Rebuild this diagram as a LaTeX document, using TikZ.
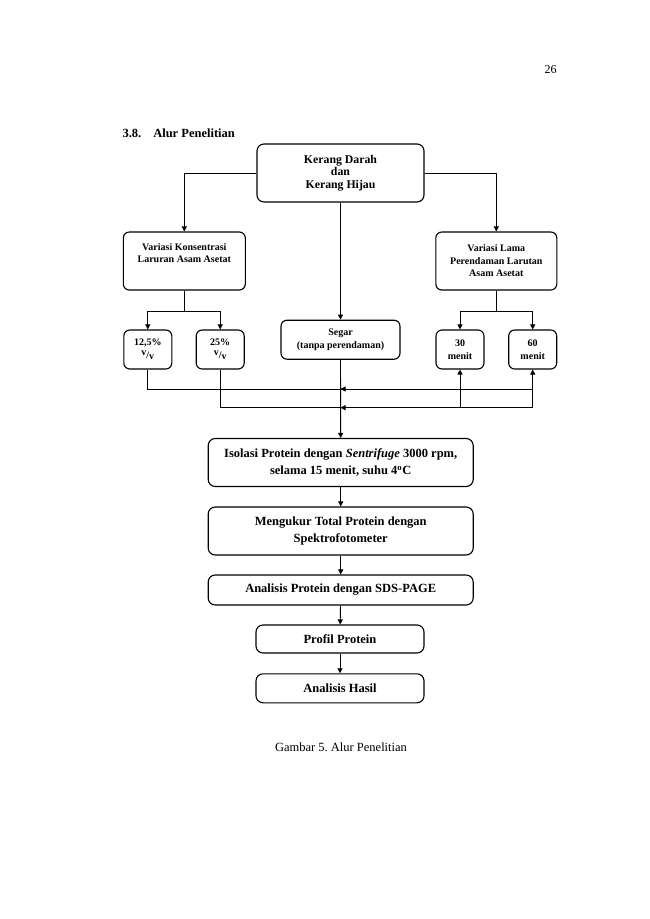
\documentclass[tikz,border=0pt]{standalone}
\usepackage{fontspec}
\setmainfont{Liberation Serif}
\usetikzlibrary{arrows.meta}
\frenchspacing

\begin{document}
\begin{tikzpicture}[x=1pt,y=1pt,yscale=-1,xscale=1,
    box/.style={draw, line width=1.1pt, rounded corners=7pt, align=center, inner sep=1pt,
        font=\bfseries\fontsize{12.5}{17}\selectfont},
    smallbox/.style={draw, line width=1.1pt, rounded corners=6pt, align=center, inner sep=1pt,
        font=\bfseries\fontsize{10}{12.5}\selectfont},
    flow/.style={line width=0.9pt, -{Triangle[length=5pt,width=5pt]}},
    link/.style={line width=0.9pt}]
        \useasboundingbox (0,0) rectangle (650,919);

        % Text Node
        \node (pageNo) [anchor=base east, inner sep=0pt, font=\fontsize{12}{14}\selectfont] at (556.7,73.3) {26};
        % Text Node
        \node (judul) [anchor=base west, inner sep=0pt, font=\bfseries\fontsize{12.5}{14}\selectfont] at (122.3,137.3) {3.8.\hspace{12pt}Alur Penelitian};

        % Boxes
        \node (kerang) [box, minimum width=167, minimum height=58, font=\bfseries\fontsize{11.8}{12.7}\selectfont] at (340.5,173) {Kerang Darah\\dan\\Kerang Hijau};
        \node (varK) [smallbox, minimum width=122, minimum height=58] at (184.3,261) {Variasi Konsentrasi\\Laruran Asam Asetat\\\strut};
        \node (varL) [smallbox, minimum width=121, minimum height=58] at (496.3,261) {Variasi Lama\\Perendaman Larutan\\Asam Asetat};
        \node (k125) [smallbox, minimum width=48, minimum height=39] at (147.8,349.5) {12,5\%\\\raisebox{2.5pt}{v}/\raisebox{-1.5pt}{v}};
        \node (k25) [smallbox, minimum width=48, minimum height=39] at (220.2,349.5) {25\%\\\raisebox{2.5pt}{v}/\raisebox{-1.5pt}{v}};
        \node (segar) [smallbox, minimum width=119, minimum height=39] at (340.5,339.7) {Segar\\(tanpa perendaman)};
        \node (t30) [smallbox, minimum width=48, minimum height=39] at (460,349.5) {30\\menit};
        \node (t60) [smallbox, minimum width=48, minimum height=39] at (532.7,349.5) {60\\menit};
        \node (isolasi) [box, minimum width=265, minimum height=48] at (340.7,462.5) {Isolasi Protein dengan \textit{Sentrifuge} 3000 rpm,\\selama 15 menit, suhu 4\textsuperscript{o}C};
        \node (mengukur) [box, minimum width=265, minimum height=48] at (340.7,531) {Mengukur Total Protein dengan\\Spektrofotometer};
        \node (sds) [box, minimum width=265, minimum height=30] at (340.7,590) {Analisis Protein dengan SDS-PAGE};
        \node (profil) [box, minimum width=168, minimum height=28] at (340,639) {Profil Protein};
        \node (hasil) [box, minimum width=168, minimum height=29] at (340,688.3) {Analisis Hasil};

        % Text Node
        \node (caption) [anchor=base, inner sep=0pt, font=\fontsize{12.5}{14}\selectfont] at (341,751) {Gambar 5. Alur Penelitian};

        % Branch points
        \coordinate (kBar) at (184.3,311);
        \coordinate (lBar) at (496.3,311);
        \coordinate (rowA) at (532.7,389);
        \coordinate (rowB) at (532.7,407.7);
        \coordinate (rowB30) at (460,407.7);
        \coordinate (joinA) at (340.5,389);
        \coordinate (joinB) at (340.5,407.7);

        % Connectors
        \draw [flow] (kerang.west) -| (varK.north);
        \draw [flow] (kerang.east) -| (varL.north);
        \draw [flow] (kerang.south) -- (segar.north);
        \draw [link] (varK.south) -- (kBar);
        \draw [flow] (kBar) -| (k125.north);
        \draw [flow] (kBar) -| (k25.north);
        \draw [link] (varL.south) -- (lBar);
        \draw [flow] (lBar) -| (t30.north);
        \draw [flow] (lBar) -| (t60.north);
        \draw [link] (k125.south) |- (rowA);
        \draw [link] (k25.south) |- (rowB);
        \draw [flow] (rowB) -- (t60.south);
        \draw [flow] (rowB30) -- (t30.south);
        \draw [flow] (rowA) -- (joinA);
        \draw [flow] (rowB) -- (joinB);
        \draw [flow] (segar.south) -- (isolasi.north);
        \draw [flow] (isolasi) -- (mengukur);
        \draw [flow] (mengukur) -- (sds);
        \draw [flow] (sds) -- (profil);
        \draw [flow] (profil) -- (hasil);
\end{tikzpicture}
\end{document}
